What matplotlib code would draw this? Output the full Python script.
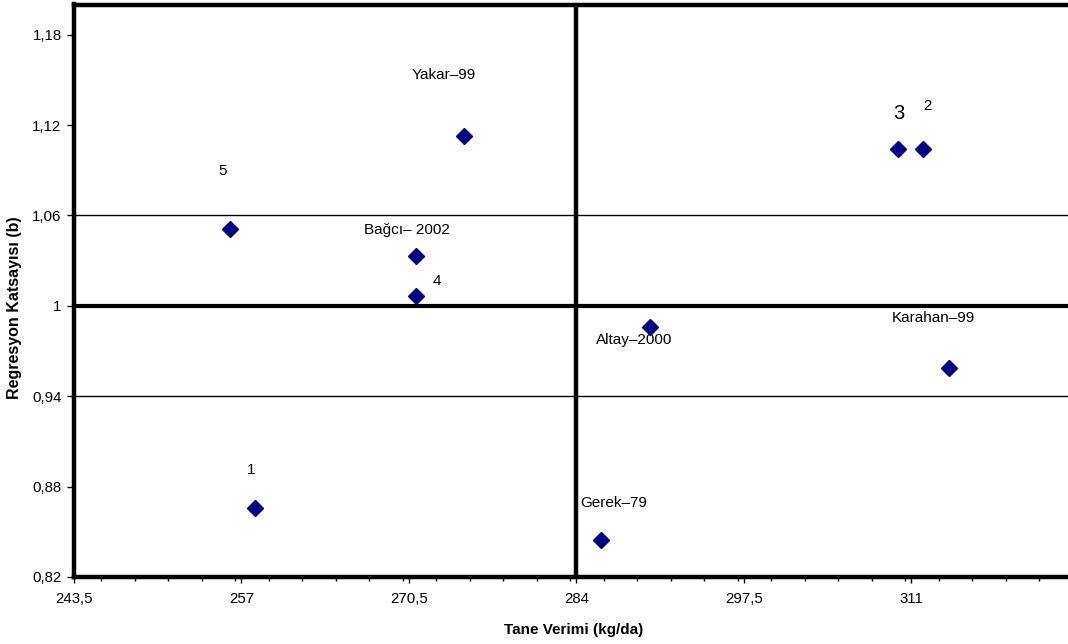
import matplotlib
matplotlib.use("Agg")
import matplotlib.pyplot as plt
from matplotlib.ticker import FixedLocator, MultipleLocator

plt.rcParams['font.family'] = ['Liberation Sans', 'DejaVu Sans']

labels = ["5", "1", "Bağcı– 2002", "4", "Yakar–99", "Altay–2000", "Gerek–79", "3", "2", "Karahan–99"]
yield_x = [256.1, 258.1, 271.1, 271.1, 274.95, 289.95, 286.0, 309.95, 311.95, 314.0]
reg_b = [1.051, 0.866, 1.033, 1.0066, 1.113, 0.986, 0.8445, 1.104, 1.104, 0.959]
# label offsets in pixels (dx, dy) relative to point
label_dx = [-8, -4, -10, 20, -20, -16, 12, 0, 4, -15]
label_dy = [58, 38, 26, 15, 61, -13, 37, 36, 43, 50]
label_size = [11, 11, 11, 11, 11, 11, 11, 14.5, 10.7, 11]

x_ticks = [243.5, 257, 270.5, 284, 297.5, 311]
x_tick_labels = ["243,5", "257", "270,5", "284", "297,5", "311"]
y_ticks = [0.82, 0.88, 0.94, 1.0, 1.06, 1.12, 1.18]
y_tick_labels = ["0,82", "0,88", "0,94", "1", "1,06", "1,12", "1,18"]

W, H = 1068, 644
fig = plt.figure(figsize=(W / 100, H / 100), dpi=100)
left, right, top, bottom = 74, 1079, 4.5, 577
ax = fig.add_axes([left / W, (H - bottom) / H, (right - left) / W, (bottom - top) / H])

ax.set_xlim(243.5, 324.5)
ax.set_ylim(0.82, 1.2)

ax.axhline(1.06, color='black', lw=1.0, zorder=1)
ax.axhline(0.94, color='black', lw=1.0, zorder=1)
ax.axhline(1.0, color='black', lw=3.0, zorder=1)
ax.axvline(284, color='black', lw=3.2, zorder=1)

ax.plot(yield_x, reg_b, linestyle='none', marker='D', markersize=7.8,
        color='#000080', markeredgecolor='#000080', zorder=3)

for lab, x, y, dx, dy, fs in zip(labels, yield_x, reg_b, label_dx, label_dy, label_size):
    ax.annotate(lab, (x, y), xytext=(dx * 0.72, dy * 0.72), textcoords='offset points',
                ha='center', va='center', fontsize=fs, color='black', zorder=4)

ax.xaxis.set_major_locator(FixedLocator(x_ticks))
ax.set_xticklabels(x_tick_labels)
ax.xaxis.set_minor_locator(MultipleLocator(2.7))
ax.yaxis.set_major_locator(FixedLocator(y_ticks))
ax.set_yticklabels(y_tick_labels)

for s in ['left', 'bottom', 'top']:
    ax.spines[s].set_linewidth(3.2)
ax.spines['right'].set_visible(False)

ax.tick_params(axis='x', which='major', direction='out', length=4, width=1, labelsize=10.8, pad=7)
ax.tick_params(axis='x', which='minor', direction='out', length=3, width=1)
ax.tick_params(axis='y', which='major', direction='out', length=5, width=1, labelsize=10.8, pad=4)

ax.set_xlabel("Tane Verimi (kg/da)", fontsize=11, fontweight='bold')
ax.set_ylabel("Regresyon Katsayısı (b)", fontsize=11.5, fontweight='bold')
ax.xaxis.set_label_coords((574 - left) / (right - left), -(630 - bottom) / (bottom - top), transform=ax.transAxes)
ax.xaxis.label.set_va('center')
ax.yaxis.set_label_coords((15 - left) / (right - left), (bottom - 308) / (bottom - top), transform=ax.transAxes)
ax.yaxis.label.set_va('center')

fig.savefig("out.png", dpi=100)
